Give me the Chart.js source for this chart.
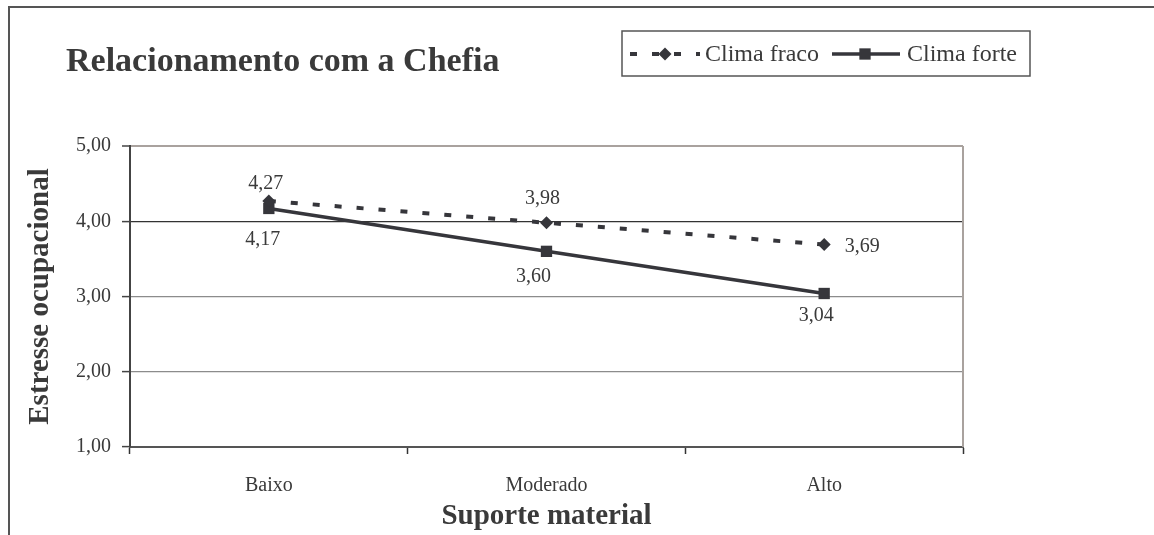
<!DOCTYPE html>
<html>
<head>
<meta charset="utf-8">
<script src="https://cdn.jsdelivr.net/npm/chart.js@4/dist/chart.umd.min.js"></script>
<style>
  html, body { margin: 0; padding: 0; background: #fff; }
  #wrap { width: 1154px; height: 535px; position: relative; }
</style>
</head>
<body>
<div id="wrap"><canvas id="chefiaChart" width="1154" height="535"></canvas></div>
<script>
// dados do gráfico
const categorias = ["Baixo", "Moderado", "Alto"];
const climaFraco = [4.27, 3.98, 3.69];
const climaForte = [4.17, 3.60, 3.04];
const seriesNomes = ["Clima fraco", "Clima forte"];
const yTicks = [1, 2, 3, 4, 5];

const tituloTexto = "Relacionamento com a Chefia";
const eixoYTitulo = "Estresse ocupacional";
const eixoXTitulo = "Suporte material";

const fonte = "'Liberation Serif', 'Times New Roman', serif";
const corTexto = "#3a3a3a";
const corSerie = "#36363b";

// deslocamento dos rótulos de valor (estilo, não dados)
const rotuloDesloc = [
	[[-3, -17], [-4, -24], [38, 2]],
	[[-6, 31], [-13, 25], [-8, 22]],
];

const formatar = (v) => v.toFixed(2).replace(".", ",");

// moldura externa, borda direita do gráfico, título e legenda
const molduraPlugin = {
	id: "moldura",
	beforeDraw(chart) {
		const c = chart.ctx;
		c.save();
		c.strokeStyle = "#555";
		c.lineWidth = 2;
		c.beginPath();
		c.moveTo(9, 535);
		c.lineTo(9, 7);
		c.lineTo(1154, 7);
		c.stroke();
		c.restore();
	},
	afterDraw(chart) {
		const c = chart.ctx;
		const area = chart.chartArea;
		c.save();
		// borda direita da área do gráfico
		c.strokeStyle = "#a9a29e";
		c.lineWidth = 2;
		c.beginPath();
		c.moveTo(area.right, area.top);
		c.lineTo(area.right, area.bottom);
		c.stroke();

		// título
		c.fillStyle = corTexto;
		c.font = "bold 34px " + fonte;
		c.textBaseline = "alphabetic";
		c.textAlign = "left";
		c.fillText(tituloTexto, 66, 71);

		// legenda
		c.strokeStyle = "#555";
		c.lineWidth = 1.5;
		c.strokeRect(622, 31, 408, 45);
		const ly = 54;
		const itens = [
			{ x0: 630, x1: 700, mx: 665, tx: 705 },
			{ x0: 832, x1: 900, mx: 865, tx: 907 },
		];
		chart.data.datasets.forEach((ds, i) => {
			const it = itens[i];
			c.strokeStyle = ds.borderColor;
			c.lineWidth = ds.borderWidth;
			c.setLineDash(ds.borderDash || []);
			c.beginPath();
			c.moveTo(it.x0, ly);
			c.lineTo(it.x1, ly);
			c.stroke();
			c.setLineDash([]);
			c.fillStyle = ds.pointBackgroundColor;
			Chart.helpers.drawPoint(c, {
				pointStyle: ds.pointStyle,
				radius: ds.pointRadius,
				borderWidth: 0,
				rotation: 0,
			}, it.mx, ly);
			c.fillStyle = corTexto;
			c.font = "24px " + fonte;
			c.textBaseline = "middle";
			c.fillText(ds.label, it.tx, ly + 1);
		});
		c.restore();
	},
	afterDatasetsDraw(chart) {
		const c = chart.ctx;
		c.save();
		c.fillStyle = corTexto;
		c.font = "20px " + fonte;
		c.textAlign = "center";
		c.textBaseline = "middle";
		chart.data.datasets.forEach((ds, i) => {
			const meta = chart.getDatasetMeta(i);
			meta.data.forEach((pt, j) => {
				const d = rotuloDesloc[i][j];
				c.fillText(formatar(ds.data[j]), pt.x + d[0], pt.y + d[1]);
			});
		});
		c.restore();
	},
};

const config = {
	type: "line",
	data: {
		labels: categorias,
		datasets: [
			{
				label: seriesNomes[0],
				data: climaFraco,
				borderColor: corSerie,
				borderWidth: 4,
				borderDash: [7, 15],
				pointStyle: "rectRot",
				pointRadius: 6.5,
				pointBackgroundColor: corSerie,
				pointBorderWidth: 0,
				tension: 0,
			},
			{
				label: seriesNomes[1],
				data: climaForte,
				borderColor: corSerie,
				borderWidth: 3.5,
				pointStyle: "rect",
				pointRadius: 8,
				pointBackgroundColor: corSerie,
				pointBorderWidth: 0,
				tension: 0,
			},
		],
	},
	options: {
		responsive: false,
		animation: false,
		layout: {
			padding: { top: 146, right: 191, left: 0, bottom: 0 },
		},
		plugins: {
			legend: { display: false },
			tooltip: { enabled: false },
			title: { display: false },
		},
		scales: {
			x: {
				offset: true,
				afterFit(scale) { scale.height = 88; },
				grid: {
					offset: true,
					drawOnChartArea: false,
					drawTicks: true,
					tickLength: 7,
					tickColor: "#333",
					tickWidth: 1.5,
				},
				border: { color: "#555", width: 2 },
				ticks: {
					color: corTexto,
					font: { family: fonte, size: 20 },
					padding: 20,
					maxRotation: 0,
				},
				title: {
					display: true,
					text: eixoXTitulo,
					color: corTexto,
					font: { family: fonte, size: 29, weight: "bold" },
					padding: { top: 0, bottom: 1 },
				},
			},
			y: {
				min: 1,
				max: 5,
				afterFit(scale) { scale.width = 130; },
				afterBuildTicks(scale) {
					scale.ticks = yTicks.map((v) => ({ value: v }));
				},
				grid: {
					color: (ctx) => {
						const v = ctx.tick && ctx.tick.value;
						if (v === 4) return "#333";
						if (v === 5) return "#a9a29e";
						return "#8c8c8c";
					},
					lineWidth: (ctx) => (ctx.tick && ctx.tick.value === 5 ? 2 : 1.2),
					tickColor: "#444",
					tickLength: 8,
					tickWidth: 1.5,
				},
				border: { color: "#444", width: 2 },
				ticks: {
					color: corTexto,
					font: { family: fonte, size: 20 },
					padding: 11,
					callback: (v) => formatar(v),
				},
				title: {
					display: true,
					text: eixoYTitulo,
					color: corTexto,
					font: { family: fonte, size: 29, weight: "bold" },
					padding: { top: 23, bottom: 0 },
				},
			},
		},
	},
	plugins: [molduraPlugin],
};

const ctx = document.getElementById("chefiaChart");
const chefiaChart = new Chart(ctx, config);
</script>
</body>
</html>
